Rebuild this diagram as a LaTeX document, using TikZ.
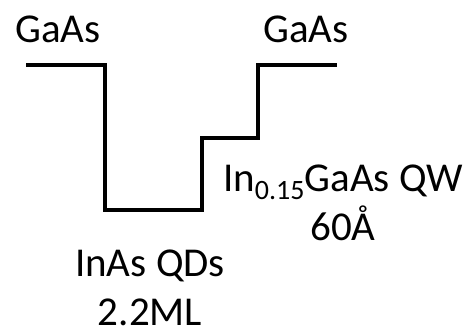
\documentclass[tikz,border=0pt]{standalone}
\usepackage{fontspec}
\setmainfont{Carlito}
\begin{document}
\begin{tikzpicture}[
        x=1pt, y=-1pt,
        band/.style={
            draw=black,
            line width=4pt,
            line join=miter
        },
        layer/.style={
            align=center,
            inner sep=0pt,
            font=\fontsize{41}{49}\selectfont
        }
    ]
    \useasboundingbox (0,0) rectangle (473,334);

    % Band edges
    \coordinate (b1) at (26,65);
    \coordinate (b2) at (105,65);
    \coordinate (b3) at (105,210);
    \coordinate (b4) at (202,210);
    \coordinate (b5) at (202,138);
    \coordinate (b6) at (258,138);
    \coordinate (b7) at (258,65);
    \coordinate (b8) at (337,65);

    \draw[band] (b1) -- (b2) -- (b3) -- (b4) -- (b5) -- (b6) -- (b7) -- (b8);

    % Layers
    \node[layer, anchor=base] (gaasL) at (58,43)  {GaAs};
    \node[layer, anchor=base] (gaasR) at (306,43) {GaAs};
    \node[layer, anchor=base] (qw)    at (343,240) {In\raisebox{-0.2em}{\fontsize{28}{28}\selectfont 0.15}GaAs QW\\60Å};
    \node[layer, anchor=base] (qd)    at (150,325) {InAs QDs\\2.2ML};

\end{tikzpicture}
\end{document}
